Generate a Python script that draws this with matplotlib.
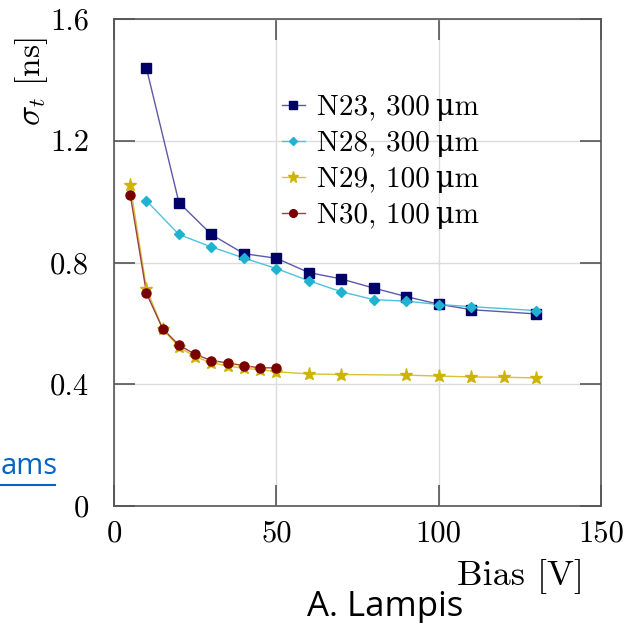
import matplotlib
matplotlib.use('Agg')
import matplotlib.pyplot as plt
from matplotlib.lines import Line2D

# ---------------------------------------------------------------------------
# Data (time resolution vs bias voltage)
# ---------------------------------------------------------------------------
bias_n23 = [10, 20, 30, 40, 50, 60, 70, 80, 90, 100, 110, 130]
sigma_n23 = [1.438, 0.997, 0.892, 0.829, 0.814, 0.767, 0.746, 0.716, 0.688, 0.663, 0.645, 0.631]

bias_n28 = [10, 20, 30, 40, 50, 60, 70, 80, 90, 100, 110, 130]
sigma_n28 = [1.003, 0.892, 0.851, 0.815, 0.780, 0.740, 0.704, 0.678, 0.673, 0.662, 0.655, 0.642]

bias_n29 = [5, 10, 15, 20, 25, 30, 35, 40, 45, 50, 60, 70, 90, 100, 110, 120, 130]
sigma_n29 = [1.054, 0.714, 0.582, 0.522, 0.490, 0.471, 0.460, 0.452, 0.448, 0.441,
             0.434, 0.432, 0.430, 0.427, 0.424, 0.423, 0.421]

bias_n30 = [5, 10, 15, 20, 25, 30, 35, 40, 45, 50]
sigma_n30 = [1.023, 0.699, 0.582, 0.529, 0.498, 0.478, 0.470, 0.461, 0.454, 0.454]

labels = ['N23, 300\u2009\u03bcm', 'N28, 300\u2009\u03bcm',
          'N29, 100\u2009\u03bcm', 'N30, 100\u2009\u03bcm']

x_ticks = [0, 50, 100, 150]
y_ticks = [0, 0.4, 0.8, 1.2, 1.6]

plt.rcParams['font.family'] = ['cmr10', 'DejaVu Serif']
plt.rcParams['mathtext.fontset'] = 'cm'
plt.rcParams['axes.formatter.use_mathtext'] = True

W, H = 625, 623
fig = plt.figure(figsize=(6.25, 6.23), dpi=100)
ax = fig.add_axes([114 / W, 1 - 506 / H, (601 - 114) / W, (506 - 19) / H])

# series: (x, y, marker color, line color, marker, size)
series = [
    (bias_n23, sigma_n23, '#000066', '#5a5aa8', 's', 6.5),
    (bias_n28, sigma_n28, '#1fb3d1', '#4cc3dd', 'D', 5.0),
    (bias_n29, sigma_n29, '#cdb400', '#d8c235', '*', 9.5),
    (bias_n30, sigma_n30, '#7a0000', '#a04040', 'o', 6.5),
]
handles = []
for (xs, ys, mc, lc, mk, ms), lab in zip(series, labels):
    ax.plot(xs, ys, color=lc, linewidth=1.0, zorder=2)
    ax.plot(xs, ys, linestyle='none', marker=mk, markersize=ms,
            markerfacecolor=mc, markeredgecolor=mc, zorder=3)
    handles.append(Line2D([], [], color=lc, linewidth=1.0, marker=mk,
                          markersize=ms * 0.85, markerfacecolor=mc,
                          markeredgecolor=mc, label=lab))

ax.set_xlim(0, 150)
ax.set_ylim(0, 1.6)
ax.set_xticks(x_ticks)
ax.set_yticks(y_ticks)
ax.set_xticklabels([str(v) for v in x_ticks])
ax.set_yticklabels(['0', '0.4', '0.8', '1.2', '1.6'])
ax.grid(True, color='#dcdcdc', linewidth=1.0)
ax.set_axisbelow(True)
ax.tick_params(axis='both', direction='in', length=15, width=1.2, color='#555555',
               top=True, right=True, labelsize=22)
ax.tick_params(axis='y', pad=18)
ax.tick_params(axis='x', pad=10)
for sp in ax.spines.values():
    sp.set_color('#555555')
    sp.set_linewidth(1.2)

ax.legend(handles=handles, loc='upper left', bbox_to_anchor=(0.320, 0.869),
          frameon=False, fontsize=21, handlelength=0.8, handletextpad=0.4,
          labelspacing=0.33, borderaxespad=0)

# axis labels placed like the original slide
fig.text(32 / W, 1 - 82 / H, r'$\sigma_t$ [ns]', rotation=90, ha='center',
         va='center', fontsize=24)
fig.text(584 / W, 1 - 576 / H, 'Bias [V]', ha='right', va='center', fontsize=26)

# slide annotations
fig.text(307 / W, 1 - 607 / H, 'A. Lampis', ha='left', va='center',
         fontsize=25, family='Open Sans', color='black')
fig.text(1 / W, 1 - 467 / H, 'ams', ha='left', va='center',
         fontsize=21, family='Open Sans', color='#0563c1')
fig.add_artist(Line2D([0, 55 / W], [1 - 485 / H, 1 - 485 / H],
                      transform=fig.transFigure, color='#0563c1', linewidth=1.5))

fig.savefig('out.png', dpi=100, facecolor='white')
